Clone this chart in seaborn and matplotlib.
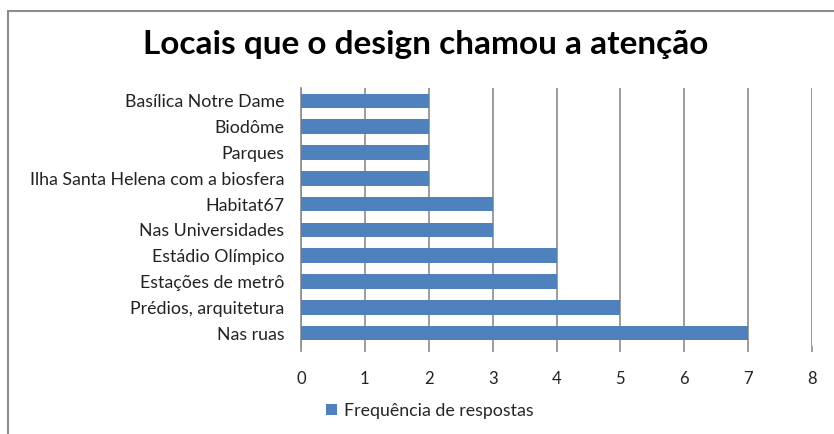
"""
Horizontal bar chart: places whose design caught attention.
"""

import matplotlib
matplotlib.use("Agg")
import matplotlib.pyplot as plt
import pandas as pd
import seaborn as sns
from matplotlib.patches import Rectangle, Patch

LOCAIS = [
    "Basílica Notre Dame",
    "Biodôme",
    "Parques",
    "Ilha Santa Helena com a biosfera",
    "Habitat67",
    "Nas Universidades",
    "Estádio Olímpico",
    "Estações de metrô",
    "Prédios, arquitetura",
    "Nas ruas",
]
FREQUENCIA = [2, 2, 2, 2, 3, 3, 4, 4, 5, 7]
X_TICKS = [0, 1, 2, 3, 4, 5, 6, 7, 8]

BAR_COLOR = "#4F81BD"
GRID_COLOR = "#8C8C8C"


def main() -> None:
    sns.set_theme(style="white")
    plt.rcParams["font.family"] = ["Lato", "DejaVu Sans"]

    df = pd.DataFrame({"local": LOCAIS, "freq": FREQUENCIA})

    fig = plt.figure(figsize=(8.34, 4.34), dpi=100)
    ax = fig.add_axes([301 / 834, 1 - 346 / 434, (812 - 301) / 834, (346 - 88) / 434])

    sns.barplot(data=df, x="freq", y="local", orient="h", color=BAR_COLOR,
                width=0.56, saturation=1, linewidth=0, ax=ax, zorder=3)

    ax.set_xlim(0, 8)
    ax.set_xticks(X_TICKS)
    ax.set_ylim(len(LOCAIS) - 0.5, -0.5)
    ax.set_xlabel("")
    ax.set_ylabel("")
    for s in ["top", "right", "bottom"]:
        ax.spines[s].set_visible(False)
    ax.spines["left"].set_color(GRID_COLOR)
    ax.spines["left"].set_linewidth(1.2)
    ax.xaxis.grid(True, color=GRID_COLOR, linewidth=1.2)
    ax.set_axisbelow(True)
    ax.tick_params(axis="x", bottom=True, length=4, width=1.2, color=GRID_COLOR,
                   pad=14, labelsize=12, labelcolor="#222222")
    ax.tick_params(axis="y", left=False, pad=6, labelsize=12.8, labelcolor="#222222")

    fig.suptitle("Locais que o design chamou a atenção", x=0.51, y=0.93,
                 fontsize=24, fontweight="bold", color="black")

    handle = Patch(facecolor=BAR_COLOR, edgecolor="none")
    fig.legend([handle], ["Frequência de respostas"], loc="center left",
               bbox_to_anchor=(310 / 834, 1 - 411 / 434), frameon=False,
               fontsize=12.8, handlelength=0.6, handleheight=0.6, handletextpad=0.4)

    # chart border (only left and top edges are visible in the crop)
    fig.patches.append(Rectangle((8 / 834, -0.1), 1.2, 1 - 11 / 434 + 0.1,
                                 transform=fig.transFigure, fill=False,
                                 edgecolor="#8C8C8C", linewidth=1.5))

    fig.savefig("out.png", dpi=100)


if __name__ == "__main__":
    main()
